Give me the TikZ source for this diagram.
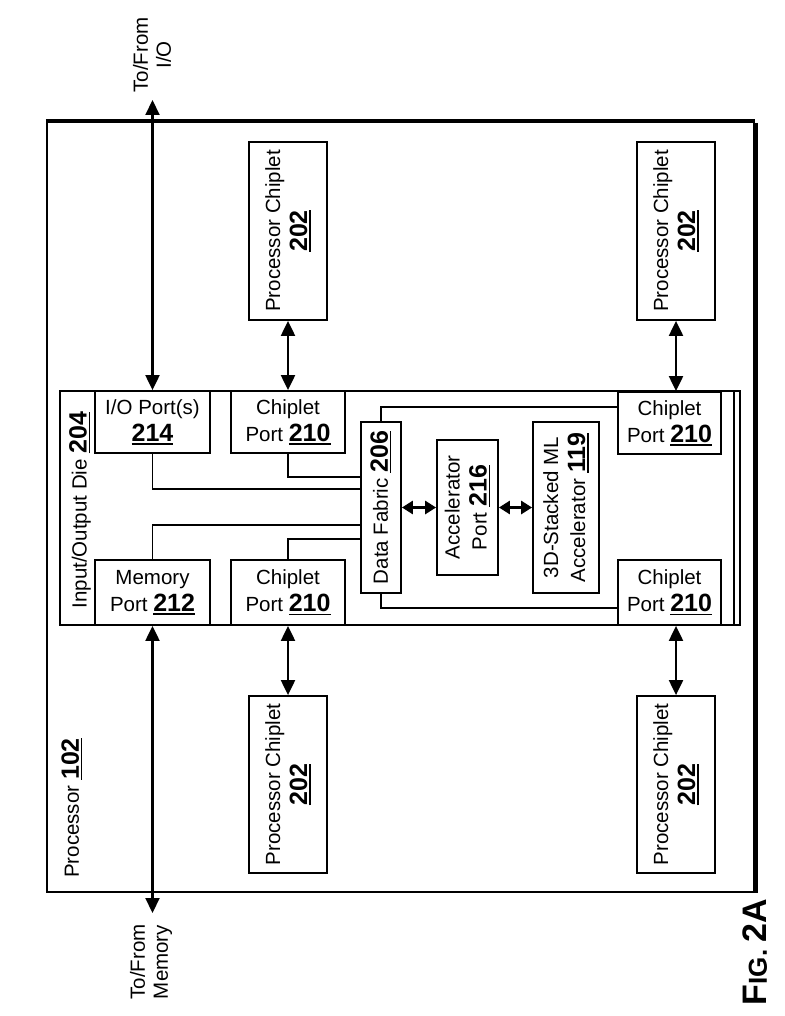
\documentclass[tikz,border=0pt]{standalone}
\usepackage{fontspec}
\setmainfont{Liberation Sans}
\usetikzlibrary{arrows.meta}
\newcommand\fs{\fontsize{20.5}{27}\selectfont}
\newcommand\fsb{\fontsize{20.5}{23}\selectfont}
\newcommand\refn[1]{\setbox0\hbox{\bfseries\fontsize{25}{25}\selectfont #1}\leavevmode\rlap{\rule[-3.5pt]{\wd0}{1.4pt}}\box0}
\begin{document}
\begin{tikzpicture}[x=1pt,y=-1pt,
  box/.style={draw, line width=1.8pt, inner sep=0pt, align=center, font=\fs},
  rbox/.style={box, rotate=90},
  lbl/.style={inner sep=0pt, align=center, font=\fs},
  conn/.style={line width=1.8pt},
  biarrow/.style={line width=2.1pt, {Triangle[length=15pt,width=14pt]}-{Triangle[length=15pt,width=14pt]}},
  smallarrow/.style={line width=3pt, {Triangle[length=11pt,width=13pt]}-{Triangle[length=11pt,width=13pt]}}
]
\fill[white] (0,0) rectangle (784,1016);
\useasboundingbox (0,0) rectangle (784,1016);

% outer processor
\node[draw, line width=2.2pt, minimum width=707pt, minimum height=770pt, inner sep=0pt] (proc) at (400.5,507) {};
\draw[line width=4pt] (proc.north west) -- (proc.north east);
\draw[line width=5pt] ([yshift=-2pt]proc.north east) -- (proc.south east);
\node[rotate=90, lbl] (proclbl) at (72,808) {Processor \refn{102}};

% IO die
\node[draw, line width=1.8pt, minimum width=680pt, minimum height=234pt, inner sep=0pt] (iod) at (400,508) {};
\draw[conn] ([xshift=-7pt]iod.north east) -- ([xshift=-7pt]iod.south east);
\node[rotate=90, lbl] (iodlbl) at (80,510) {Input/Output Die \refn{204}};

% ports
\node[box, minimum width=115pt, minimum height=62pt] (iop) at (152.5,422) {I/O Port(s)\\\refn{214}};
\node[box, minimum width=114pt, minimum height=62pt] (cpTL) at (288,422) {Chiplet\\Port \refn{210}};
\node[box, minimum width=115pt, minimum height=65pt] (mem) at (152.5,592.5) {Memory\\Port \refn{212}};
\node[box, minimum width=114pt, minimum height=65pt] (cpBL) at (288,592.5) {Chiplet\\Port \refn{210}};
\node[box, minimum width=103pt, minimum height=62pt] (cpTR) at (669.5,423) {Chiplet\\Port \refn{210}};
\node[box, minimum width=103pt, minimum height=65pt] (cpBR) at (669.5,592.5) {Chiplet\\Port \refn{210}};

% fabric, accelerator
\node[rbox, minimum width=171pt, minimum height=40pt] (df) at (381,507.5) {Data Fabric \refn{206}};
\node[rbox, minimum width=135pt, minimum height=61pt] (acc) at (467.5,507.5) {Accelerator\\Port \refn{216}};
\node[rbox, minimum width=171pt, minimum height=66pt] (ml) at (566,507.5) {3D-Stacked ML\\Accelerator \refn{119}};

% processor chiplets
\node[rbox, minimum width=178pt, minimum height=78pt] (pcTL) at (288,231) {Processor Chiplet\\\refn{202}};
\node[rbox, minimum width=178pt, minimum height=78pt] (pcTR) at (676,231) {Processor Chiplet\\\refn{202}};
\node[rbox, minimum width=177pt, minimum height=78pt] (pcBL) at (288,784.5) {Processor Chiplet\\\refn{202}};
\node[rbox, minimum width=177pt, minimum height=78pt] (pcBR) at (676,784.5) {Processor Chiplet\\\refn{202}};

% internal connectors
\draw[conn] (iop.south) |- (df.north |- 0,489);
\draw[conn] (cpTL.south) |- (df.north |- 0,477);
\draw[conn] (mem.north) |- (df.north |- 0,525);
\draw[conn] (cpBL.north) |- (df.north |- 0,539);
\draw[conn] (df.east) |- (cpTR.west |- 0,407);
\draw[conn] (df.west) |- (cpBR.west |- 0,608);
\draw[smallarrow] (df.south) -- (acc.north);
\draw[smallarrow] (acc.south) -- (ml.north);

% chiplet arrows
\draw[biarrow] (pcTL.west) -- (cpTL.north);
\draw[biarrow] (pcTR.west) -- (pcTR.west |- cpTR.north);
\draw[biarrow] (cpBL.south) -- (pcBL.east);
\draw[biarrow] (pcBR.east |- cpBR.south) -- (pcBR.east);

% external arrows
\coordinate (ioend) at (153,100);
\draw[biarrow] (iop.north) -- (iop.north |- ioend);
\node[rotate=90, lbl, font=\fsb] (iotxt) at (152,55) {To/From\\I/O};
\coordinate (memend) at (153,913);
\draw[biarrow] (mem.south) -- (mem.south |- memend);
\node[rotate=90, lbl, font=\fsb] (memtxt) at (151,962) {To/From\\Memory};

% figure label
\node[rotate=90, inner sep=0pt, font=\bfseries] (fig) at (755,952) {\fontsize{34}{34}\selectfont F\fontsize{26}{26}\selectfont IG. \fontsize{34}{34}\selectfont 2A};
\end{tikzpicture}
\end{document}
